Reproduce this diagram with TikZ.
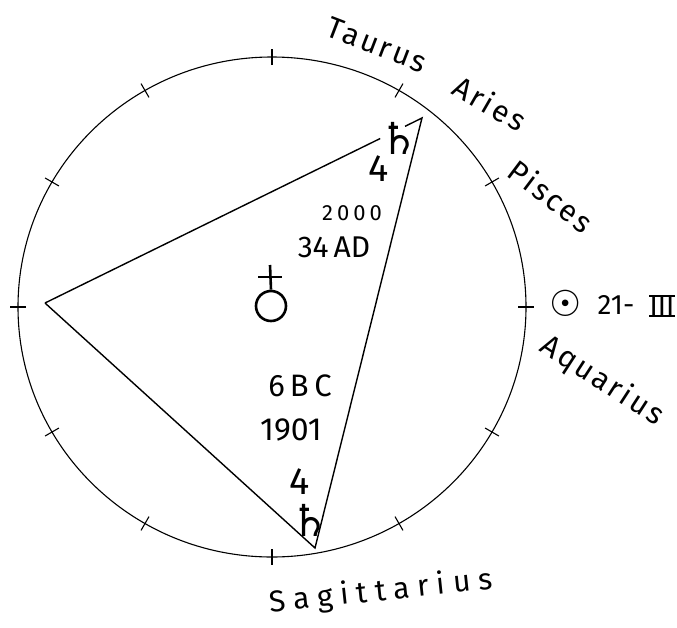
\documentclass[tikz,border=0pt]{standalone}
\usepackage{fontspec}
\setmainfont{Fira Sans}
\newfontfamily\handfont[LetterSpace=9]{Fira Sans}
\newfontfamily\widehand[LetterSpace=26]{Fira Sans}
\newfontfamily\numfont[LetterSpace=18]{Fira Sans}
\newfontfamily\symfont{DejaVu Sans}
\usetikzlibrary{calc}
\begin{document}
\begin{tikzpicture}[x=1pt,y=-1pt,
  ring/.style={line width=1.1pt},
  tickmark/.style={line width=1.1pt},
  edge/.style={line width=1.4pt},
  zodiac/.style={inner sep=0pt, font=\handfont\fontsize{30}{30}\selectfont},
  numlabel/.style={inner sep=0pt},
  saturn/.style={inner sep=0pt, font=\symfont\fontsize{44}{44}\selectfont},
  jupiter/.style={inner sep=0pt, font=\fontsize{38}{38}\selectfont},
  glyphline/.style={line width=2.6pt},
]
\useasboundingbox (0,0) rectangle (677,627);
\fill[white] (0,0) rectangle (677,627);

% zodiac circle
\coordinate (c) at (272,307);
\draw[ring] (c) ellipse [x radius=254, y radius=250];
\foreach \a in {0,30,...,330}
  \draw[tickmark] ({272+246*sin(\a)},{307-242*cos(\a)}) -- ({272+262*sin(\a)},{307-258*cos(\a)});

% triangle
\coordinate (L) at (45,303);
\coordinate (T) at (422,118);
\coordinate (B) at (315,548);
\coordinate (g1) at ($(L)!0.889!(T)$);
\coordinate (g2) at ($(L)!0.955!(T)$);
\draw[edge] (L) -- (g1);
\draw[edge] (g2) -- (T) -- (B) -- (L);

% planets upper
\node[saturn] (satA) at (399,138) {♄};
\node[jupiter] (jupA) at (379,169) {4};
\node[numlabel, font=\numfont\fontsize{22}{22}\selectfont] (y2000) at (352,213) {2000};
\node[numlabel, font=\fontsize{30}{30}\selectfont] (y34) at (334,247) {34\,AD};

% planets lower
\node[numlabel, font=\numfont\fontsize{31}{31}\selectfont] (y6) at (300,386) {6\,BC};
\node[numlabel, font=\fontsize{32}{32}\selectfont] (y1901) at (291,430) {1901};
\node[jupiter] (jupB) at (300,482) {4};
\node[saturn] (satB) at (310,520) {♄};

% Earth in centre
\node[draw, circle, line width=2.6pt, minimum size=30pt, inner sep=0pt] (earth) at (271,306) {};
\coordinate (crossc) at (270,277);
\draw[glyphline] (earth.north) -- (270,265);
\draw[glyphline] ($(crossc)+(-12,0)$) -- ($(crossc)+(12,0)$);

% Sun, equinox
\node[inner sep=0pt, font=\symfont\fontsize{36}{36}\selectfont] (sun) at (566,303) {☉};
\node[numlabel, font=\fontsize{28}{28}\selectfont] (d21) at (616,305) {21-};
\node[numlabel, font=\fontsize{28}{28}\selectfont] (iii) at (662,306) {III};
\draw[line width=1.6pt] (iii.north west) -- (iii.north east);
\draw[line width=1.6pt] (iii.south west) -- (iii.south east);

% zodiac names
\node[zodiac, rotate=-21] (taurus) at (377,45) {Taurus};
\node[zodiac, rotate=-30] (aries) at (490,103) {Aries};
\node[zodiac, rotate=-37] (pisces) at (551,196) {Pisces};
\node[zodiac, rotate=-33] (aquarius) at (602,381) {Aquarius};
\node[zodiac, rotate=6, font=\widehand\fontsize{30}{30}\selectfont] (sagittarius) at (381,592) {Sagittarius};
\end{tikzpicture}
\end{document}
